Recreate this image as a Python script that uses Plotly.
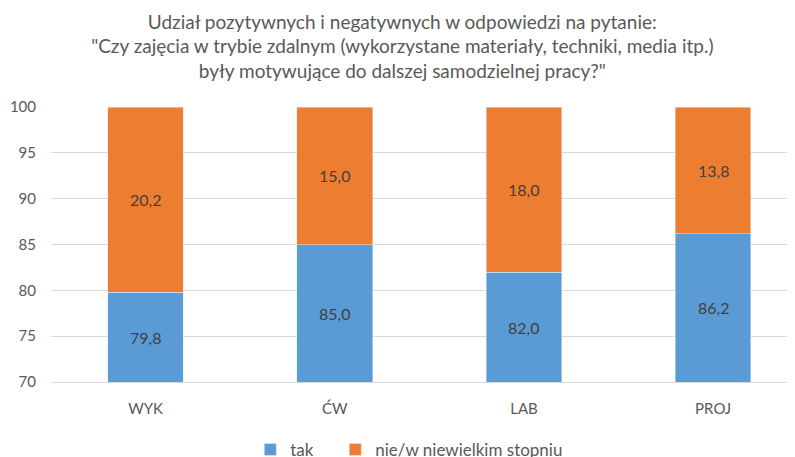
import plotly.graph_objects as go

categories = ["WYK", "ĆW", "LAB", "PROJ"]
tak = [79.8, 85.0, 82.0, 86.2]
nie = [20.2, 15.0, 18.0, 13.8]
y_ticks = [70, 75, 80, 85, 90, 95, 100]
y_min, y_max = 70, 100

FONT = "Lato, 'Open Sans', sans-serif"
fig = go.Figure()
fig.add_trace(go.Bar(x=categories, y=tak, name="tak", marker_color="#5B9BD5",
                     legend="legend", showlegend=True))
fig.add_trace(go.Bar(x=categories, y=nie, name="nie/w niewielkim stopniu",
                     marker_color="#ED7D31", legend="legend2", showlegend=True))

def fmt(v):
    return f"{v:.1f}".replace(".", ",")

# value labels centred in the visible part of each segment
for c, t, n in zip(categories, tak, nie):
    fig.add_annotation(x=c, y=(y_min + t) / 2, text=fmt(t), showarrow=False,
                       font=dict(color="#404040", size=16, family=FONT))
    fig.add_annotation(x=c, y=t + n / 2, text=fmt(n), showarrow=False,
                       font=dict(color="#404040", size=16, family=FONT))

leg_common = dict(orientation="h", xanchor="left", y=-0.247, yanchor="middle",
                  font=dict(size=17, color="#595959"), itemwidth=30,
                  bgcolor="rgba(0,0,0,0)", visible=True)

fig.update_layout(
    barmode="stack",
    bargap=0.6,
    separators=", ",
    showlegend=True,
    width=795, height=457,
    plot_bgcolor="white", paper_bgcolor="white",
    margin=dict(l=43, r=0, t=99, b=83, autoexpand=False),
    font=dict(family=FONT, color="#595959", size=15),
    title=dict(
        text="Udział pozytywnych i negatywnych w odpowiedzi na pytanie:<br>"
             "\"Czy zajęcia w trybie zdalnym (wykorzystane materiały, techniki, media itp.)<br>"
             "były motywujące do dalszej samodzielnej pracy?\"",
        x=0.496, xanchor="center", y=0.955, yanchor="top",
        font=dict(size=19, color="#595959", family=FONT),
    ),
    xaxis=dict(range=[-0.5, 3.475], showline=True, linecolor="#D9D9D9",
               ticks="outside", ticklen=13, tickcolor="rgba(0,0,0,0)",
               tickfont=dict(size=15, color="#595959")),
    yaxis=dict(range=[y_min, y_max], tickvals=y_ticks, showgrid=True,
               gridcolor="#D9D9D9", zeroline=False,
               ticks="outside", ticklen=11, tickcolor="rgba(0,0,0,0)",
               tickfont=dict(size=15, color="#595959")),
    legend=dict(x=0.265, **leg_common),
    legend2=dict(x=0.378, **leg_common),
)
fig.write_html("out.html")
